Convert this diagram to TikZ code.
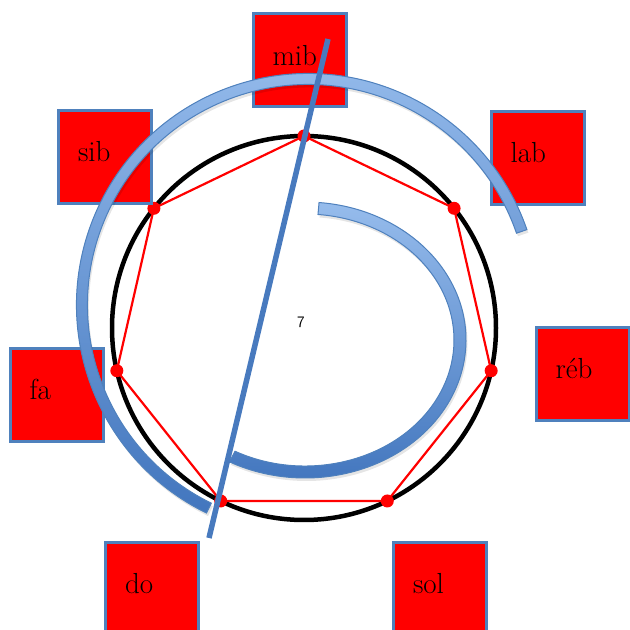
\documentclass[tikz,border=0pt]{standalone}
\usetikzlibrary{calc,shadows}
\definecolor{boxblue}{RGB}{79,129,189}
\definecolor{arclight}{RGB}{150,188,236}
\definecolor{arcdark}{RGB}{66,118,190}
\definecolor{linblue}{RGB}{72,122,190}
\begin{document}
\begin{tikzpicture}[x=1pt,y=1pt,
  notebox/.style={draw=boxblue,line width=3pt,fill=red,minimum width=93pt,minimum height=93pt,
    inner sep=0pt,text width=54pt,align=left,text height=20pt,text depth=10pt,
    font=\fontsize{29}{30}\selectfont},
  bandarc/.style={draw=boxblue,line width=1pt,top color=arclight,bottom color=arcdark,
    drop shadow={shadow xshift=1.5pt,shadow yshift=-3pt,fill=black,opacity=0.1}},
  polyline/.style={red,line width=2.2pt,line join=round},
  dot/.style={fill=red}]
\useasboundingbox (0,0) rectangle (630,630);
% circle and heptagon
\coordinate (C) at (304,302);
\draw[line width=4.5pt] (C) circle[radius=192pt];
\foreach \i in {0,...,6}{\coordinate (v\i) at ($(C)+(90-\i*51.42857:192pt)$);}
\draw[polyline] (v0)--(v1)--(v2)--(v3)--(v4)--(v5)--(v6)--cycle;
\foreach \i in {0,...,6}{\fill[dot] (v\i) circle[radius=6.5pt];}
% note boxes
\node[notebox] (mib) at (299.5,569.5) {mib};
\node[notebox] (sib) at (105,473) {sib};
\node[notebox] (lab) at (537.5,472) {lab};
\node[notebox] (reb) at (582.5,256) {réb};
\node[notebox] (fa) at (56.5,235) {fa};
\node[notebox] (do) at (152,41) {do};
\node[notebox] (sol) at (440,41) {sol};
% centre label
\node[font=\sffamily\fontsize{16}{16}\selectfont,inner sep=0pt] (seven) at (301,308) {7};
% outer arc
\coordinate (O) at (308,325);
\path[bandarc] ($(O)+(19:231.5pt)$) arc[start angle=19,end angle=244,radius=231.5pt]
  -- ($(O)+(244:220.5pt)$) arc[start angle=244,end angle=19,radius=220.5pt] -- cycle;
% inner arc
\coordinate (I) at (305,290);
\path[bandarc] ($(I)+(85:161pt and 138pt)$) arc[start angle=85,end angle=-118,x radius=161pt,y radius=138pt]
  -- ($(I)+(-118:149pt and 126pt)$) arc[start angle=-118,end angle=85,x radius=149pt,y radius=126pt] -- cycle;
% straight line
\coordinate (ltop) at (328,591);
\coordinate (lbot) at (209,92);
\draw[linblue,line width=5.5pt] (ltop) -- (lbot);
\end{tikzpicture}
\end{document}
